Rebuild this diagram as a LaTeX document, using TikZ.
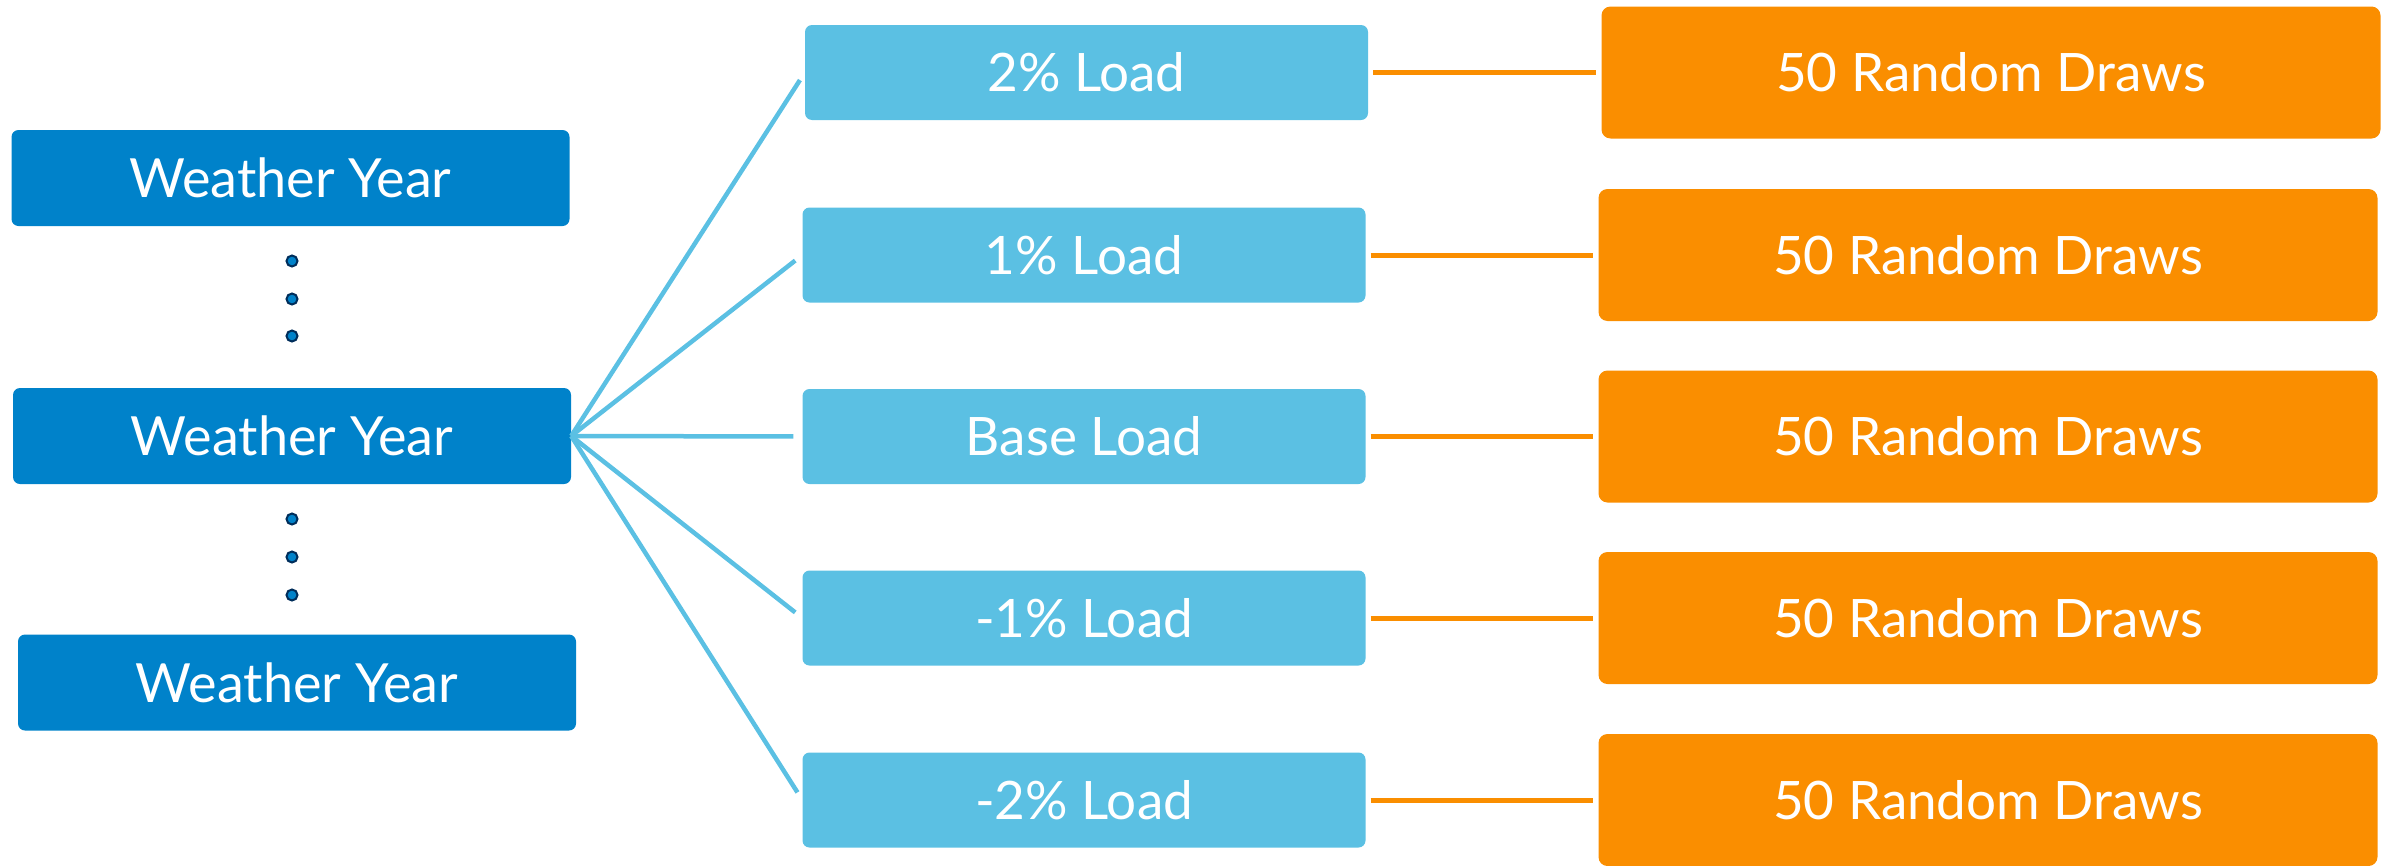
\documentclass[tikz,border=0pt]{standalone}
\usepackage{fontspec}
\setmainfont{Lato}
\definecolor{wyblue}{RGB}{0,130,202}
\definecolor{ldblue}{RGB}{91,192,227}
\definecolor{drorange}{RGB}{250,142,0}
\definecolor{dotedge}{RGB}{0,45,90}
\tikzset{
  wybox/.style={fill=wyblue, rounded corners=7pt, minimum width=558pt, minimum height=96pt, inner sep=0pt, text=white, font=\fontsize{54}{64}\selectfont},
  ldbox/.style={fill=ldblue, rounded corners=7pt, minimum width=563pt, minimum height=95pt, inner sep=0pt, text=white, font=\fontsize{53}{63}\selectfont},
  drbox/.style={fill=drorange, rounded corners=9pt, minimum width=779pt, minimum height=132pt, inner sep=0pt, text=white, font=\fontsize{53}{63}\selectfont},
  blueline/.style={draw=ldblue, line width=4.5pt, shorten >=9pt},
  orangeline/.style={draw=drorange, line width=5pt, shorten <=5pt, shorten >=5pt},
  vdot/.style={circle, fill=wyblue, draw=dotedge, line width=2pt, minimum size=11pt, inner sep=0pt}
}
\begin{document}
\begin{tikzpicture}[x=1pt, y=-1pt]
\useasboundingbox (0,0) rectangle (2394,865);
\node[wybox] (wy1) at (290.5,178) {Weather Year};
\node[wybox] (wy2) at (292,436) {Weather Year};
\node[wybox] (wy3) at (297,682.5) {Weather Year};
\node[vdot] (d1) at (292,261) {};
\node[vdot] (d2) at (292,299) {};
\node[vdot] (d3) at (292,336) {};
\node[vdot] (d4) at (292,519) {};
\node[vdot] (d5) at (292,557) {};
\node[vdot] (d6) at (292,595) {};
\node[ldbox] (l1) at (1086.5,72.5) {2\% Load};
\node[ldbox] (l2) at (1084,255) {1\% Load};
\node[ldbox] (l3) at (1084,436.5) {Base Load};
\node[ldbox] (l4) at (1084,618) {-1\% Load};
\node[ldbox] (l5) at (1084,800) {-2\% Load};
\node[drbox] (r1) at (1991,72.5) {50 Random Draws};
\node[drbox] (r2) at (1988,255) {50 Random Draws};
\node[drbox] (r3) at (1988,436.5) {50 Random Draws};
\node[drbox] (r4) at (1988,618) {50 Random Draws};
\node[drbox] (r5) at (1988,800) {50 Random Draws};
\foreach \i in {1,...,5}{
  \draw[blueline] (wy2.east) -- (l\i.west);
  \draw[orangeline] (l\i.east) -- (r\i.west);
}
\end{tikzpicture}
\end{document}
